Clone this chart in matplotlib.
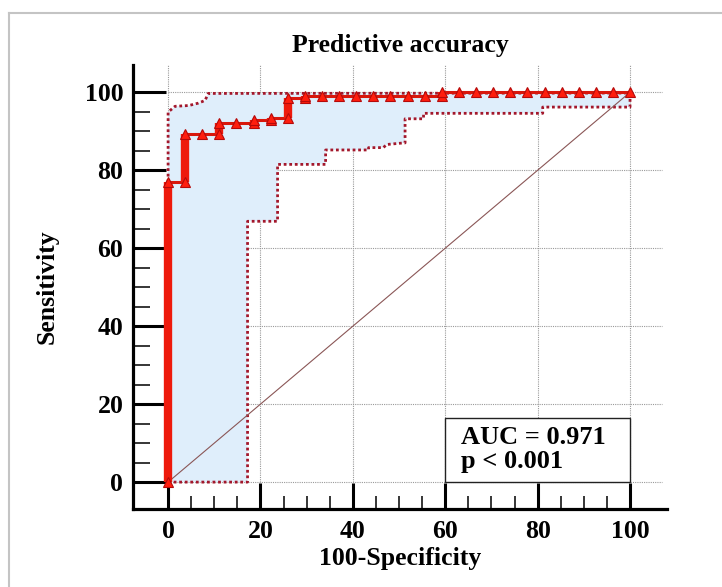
import numpy as np
import matplotlib
matplotlib.use("Agg")
import matplotlib.pyplot as plt
from matplotlib.lines import Line2D
from matplotlib.ticker import FixedLocator

# ------------------------------
# DATA
# ------------------------------
roc_x = [0, 0, 3.7, 3.7, 7.4, 11.1, 11.1, 14.8, 18.5, 18.5, 22.2, 22.2, 25.9, 25.9,
         29.6, 29.6, 33.3, 37.0, 40.7, 44.4, 48.1, 51.9, 55.6, 59.3, 59.3,
         63.0, 66.7, 70.4, 74.1, 77.8, 81.5, 85.2, 88.9, 92.6, 96.3, 100]
roc_y = [0, 77.0, 77.0, 89.2, 89.2, 89.2, 92.2, 92.2, 92.2, 92.8, 92.8, 93.3, 93.3, 98.6,
         98.6, 99.1, 99.1, 99.1, 99.1, 99.1, 99.1, 99.1, 99.1, 99.1, 100,
         100, 100, 100, 100, 100, 100, 100, 100, 100, 100, 100]

upper_x = [0, 0, 1.5, 4.5, 6.5, 8.0, 8.7, 100]
upper_y = [0, 94.9, 96.4, 96.6, 97.2, 97.9, 99.7, 99.8]

lower_x = [0, 17.2, 17.2, 23.7, 23.7, 34.1, 34.1, 43.4, 43.4, 46.6, 47.3, 50.9, 51.3,
           51.3, 55.3, 55.3, 81.1, 81.1, 100, 100]
lower_y = [0, 0, 66.9, 66.9, 81.5, 81.5, 85.2, 85.2, 85.8, 85.8, 86.6, 87.0, 87.0,
           93.2, 93.2, 94.6, 94.6, 96.2, 96.2, 99.8]

major_ticks = [0, 20, 40, 60, 80, 100]
auc_text = "AUC = 0.971\np < 0.001"

SERIF = "Liberation Serif"

fig = plt.figure(figsize=(7.22, 5.87), dpi=100)
ax = fig.add_axes([0.1842, 0.1329, 0.7396, 0.7564])
ax.set_xlim(-7.6, 108)
ax.set_ylim(-6.9, 107)

# grid (dotted, only inside 0..107)
ax.hlines(major_ticks, 0, 107, colors="#9a9a9a", linestyles=(0, (1, 1)), lw=0.8, zorder=1)
ax.vlines(major_ticks, 0, 107, colors="#9a9a9a", linestyles=(0, (1, 1)), lw=0.8, zorder=1)

# confidence band
poly_x = list(upper_x) + list(lower_x[::-1])
poly_y = list(upper_y) + list(lower_y[::-1])
ax.fill(poly_x, poly_y, color="#dfeefb", lw=0, zorder=2)
ax.plot(upper_x, upper_y, color="#a3172b", lw=2.0, ls=(0, (1, 1)), zorder=3)
ax.plot(lower_x, lower_y, color="#a3172b", lw=2.0, ls=(0, (1, 1)), zorder=3)

# reference diagonal
ax.plot([0, 100], [0, 100], color="#8a5656", lw=0.8, zorder=3)

# ROC curve
ax.plot(roc_x, roc_y, color="#d8170c", lw=2.2, zorder=4)
for i in range(1, len(roc_x)):
    if roc_x[i] == roc_x[i - 1]:
        ax.plot([roc_x[i], roc_x[i]], [roc_y[i - 1], roc_y[i]],
                color="#ee1a0c", lw=6, solid_capstyle="butt", zorder=4)
ax.plot(roc_x, roc_y, ls="none", marker="^", ms=7, mfc="#ff1e0e", mec="#b50a0a",
        mew=0.8, zorder=5)

# AUC box
ax.add_patch(plt.Rectangle((60, 0), 40, 16.5, fill=True, fc="white", ec="#222222",
                           lw=1.0, zorder=6))
ax.text(63.3, 8.3, auc_text, fontsize=19, fontweight="bold", family=SERIF,
        va="center", ha="left", linespacing=1.05, zorder=7)

# axes styling
for side in ["top", "right"]:
    ax.spines[side].set_visible(False)
for side in ["left", "bottom"]:
    ax.spines[side].set_linewidth(2.3)

ax.set_xticks(major_ticks)
ax.set_yticks(major_ticks)
minor = [v for v in range(0, 101, 5) if v % 20 != 0]
ax.xaxis.set_minor_locator(FixedLocator(minor))
ax.yaxis.set_minor_locator(FixedLocator(minor))
ax.tick_params(axis="y", which="major", direction="in", length=24, width=2.2, pad=7)
ax.tick_params(axis="y", which="minor", direction="in", length=12, width=1.1)
ax.tick_params(axis="x", which="major", direction="in", length=19, width=2.2, pad=8)
ax.tick_params(axis="x", which="minor", direction="in", length=9.5, width=1.1)

for lab in ax.get_xticklabels() + ax.get_yticklabels():
    lab.set_family(SERIF)
    lab.set_fontweight("bold")
    lab.set_fontsize(18.5)

ax.set_xlabel("100-Specificity", family=SERIF, fontweight="bold", fontsize=18.5, labelpad=3)
ax.set_ylabel("Sensitivity", family=SERIF, fontweight="bold", fontsize=18.5, labelpad=19)
fig.text(0.554, 0.922, "Predictive accuracy", family=SERIF, fontweight="bold",
         fontsize=18.5, ha="center", va="center")

# light gray frame (top and left edges)
fig.add_artist(Line2D([0.012, 1.0], [0.978, 0.978], color="#c4c4c4", lw=1.5))
fig.add_artist(Line2D([0.012, 0.012], [0.0, 0.978], color="#c4c4c4", lw=1.5))

fig.savefig("out.png", dpi=100)
